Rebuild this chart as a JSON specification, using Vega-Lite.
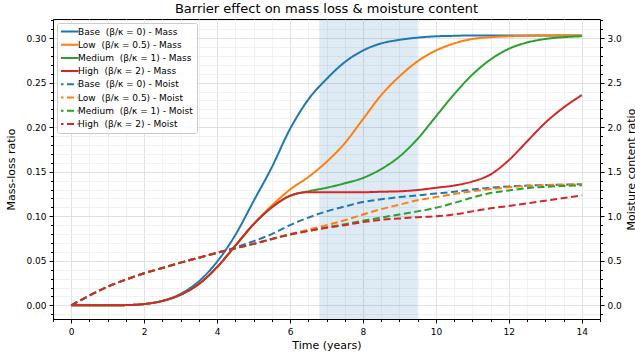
{
  "$schema": "https://vega.github.io/schema/vega-lite/v6.json",
  "width": 547,
  "height": 300,
  "autosize": {"type": "none"},
  "padding": {"left": 53, "top": 19, "right": 35, "bottom": 41},
  "background": "white",
  "title": {"text": "Barrier effect on mass loss & moisture content", "fontSize": 13, "font": "DejaVu Sans", "fontWeight": "normal", "color": "#000", "anchor": "middle", "offset": 0},
  "config": {
    "font": "DejaVu Sans",
    "view": {"stroke": "#000", "strokeWidth": 1},
    "axis": {"domainColor": "#000", "tickColor": "#000", "labelColor": "#000", "titleColor": "#000", "labelFontSize": 9, "titleFontSize": 11, "titleFontWeight": "normal", "labelOverlap": false, "labelFlush": false, "gridWidth": 0.8},
    "legend": {"orient": "top-left", "offset": 4, "padding": 4, "fillColor": "rgba(255,255,255,0.85)", "strokeColor": "#cccccc", "strokeWidth": 1, "cornerRadius": 2, "labelFontSize": 9, "labelColor": "#000", "labelFont": "DejaVu Sans", "symbolType": "M-2,0H2", "symbolSize": 121, "symbolStrokeWidth": 2, "clipHeight": 9, "rowPadding": 3.2, "labelOffset": 4}
  },
  "datasets": {
    "mass": [
      {"s":"Base\u00a0 (β/κ = 0) - Mass","t":0,"v":0},{"s":"Base\u00a0 (β/κ = 0) - Mass","t":0.5,"v":0},{"s":"Base\u00a0 (β/κ = 0) - Mass","t":1,"v":0},{"s":"Base\u00a0 (β/κ = 0) - Mass","t":1.5,"v":0.0003},{"s":"Base\u00a0 (β/κ = 0) - Mass","t":2,"v":0.0015},{"s":"Base\u00a0 (β/κ = 0) - Mass","t":2.5,"v":0.005},{"s":"Base\u00a0 (β/κ = 0) - Mass","t":3,"v":0.013},{"s":"Base\u00a0 (β/κ = 0) - Mass","t":3.5,"v":0.027},{"s":"Base\u00a0 (β/κ = 0) - Mass","t":4,"v":0.049},{"s":"Base\u00a0 (β/κ = 0) - Mass","t":4.5,"v":0.079},{"s":"Base\u00a0 (β/κ = 0) - Mass","t":5,"v":0.117},{"s":"Base\u00a0 (β/κ = 0) - Mass","t":5.5,"v":0.155},{"s":"Base\u00a0 (β/κ = 0) - Mass","t":6,"v":0.198},{"s":"Base\u00a0 (β/κ = 0) - Mass","t":6.5,"v":0.231},{"s":"Base\u00a0 (β/κ = 0) - Mass","t":7,"v":0.254},{"s":"Base\u00a0 (β/κ = 0) - Mass","t":7.5,"v":0.273},{"s":"Base\u00a0 (β/κ = 0) - Mass","t":8,"v":0.286},{"s":"Base\u00a0 (β/κ = 0) - Mass","t":8.5,"v":0.294},{"s":"Base\u00a0 (β/κ = 0) - Mass","t":9,"v":0.298},{"s":"Base\u00a0 (β/κ = 0) - Mass","t":9.5,"v":0.3005},{"s":"Base\u00a0 (β/κ = 0) - Mass","t":10,"v":0.302},{"s":"Base\u00a0 (β/κ = 0) - Mass","t":10.5,"v":0.3025},{"s":"Base\u00a0 (β/κ = 0) - Mass","t":11,"v":0.303},{"s":"Base\u00a0 (β/κ = 0) - Mass","t":11.5,"v":0.303},{"s":"Base\u00a0 (β/κ = 0) - Mass","t":12,"v":0.303},{"s":"Base\u00a0 (β/κ = 0) - Mass","t":12.5,"v":0.303},{"s":"Base\u00a0 (β/κ = 0) - Mass","t":13,"v":0.303},{"s":"Base\u00a0 (β/κ = 0) - Mass","t":13.5,"v":0.303},{"s":"Base\u00a0 (β/κ = 0) - Mass","t":14,"v":0.303},
      {"s":"Low\u00a0 (β/κ = 0.5) - Mass","t":0,"v":0},{"s":"Low\u00a0 (β/κ = 0.5) - Mass","t":0.5,"v":0},{"s":"Low\u00a0 (β/κ = 0.5) - Mass","t":1,"v":0},{"s":"Low\u00a0 (β/κ = 0.5) - Mass","t":1.5,"v":0.0003},{"s":"Low\u00a0 (β/κ = 0.5) - Mass","t":2,"v":0.0015},{"s":"Low\u00a0 (β/κ = 0.5) - Mass","t":2.5,"v":0.005},{"s":"Low\u00a0 (β/κ = 0.5) - Mass","t":3,"v":0.012},{"s":"Low\u00a0 (β/κ = 0.5) - Mass","t":3.5,"v":0.024},{"s":"Low\u00a0 (β/κ = 0.5) - Mass","t":4,"v":0.043},{"s":"Low\u00a0 (β/κ = 0.5) - Mass","t":4.5,"v":0.067},{"s":"Low\u00a0 (β/κ = 0.5) - Mass","t":5,"v":0.091},{"s":"Low\u00a0 (β/κ = 0.5) - Mass","t":5.5,"v":0.112},{"s":"Low\u00a0 (β/κ = 0.5) - Mass","t":6,"v":0.130},{"s":"Low\u00a0 (β/κ = 0.5) - Mass","t":6.5,"v":0.144},{"s":"Low\u00a0 (β/κ = 0.5) - Mass","t":7,"v":0.161},{"s":"Low\u00a0 (β/κ = 0.5) - Mass","t":7.5,"v":0.182},{"s":"Low\u00a0 (β/κ = 0.5) - Mass","t":8,"v":0.209},{"s":"Low\u00a0 (β/κ = 0.5) - Mass","t":8.5,"v":0.236},{"s":"Low\u00a0 (β/κ = 0.5) - Mass","t":9,"v":0.257},{"s":"Low\u00a0 (β/κ = 0.5) - Mass","t":9.5,"v":0.274},{"s":"Low\u00a0 (β/κ = 0.5) - Mass","t":10,"v":0.286},{"s":"Low\u00a0 (β/κ = 0.5) - Mass","t":10.5,"v":0.294},{"s":"Low\u00a0 (β/κ = 0.5) - Mass","t":11,"v":0.299},{"s":"Low\u00a0 (β/κ = 0.5) - Mass","t":11.5,"v":0.301},{"s":"Low\u00a0 (β/κ = 0.5) - Mass","t":12,"v":0.302},{"s":"Low\u00a0 (β/κ = 0.5) - Mass","t":12.5,"v":0.3025},{"s":"Low\u00a0 (β/κ = 0.5) - Mass","t":13,"v":0.303},{"s":"Low\u00a0 (β/κ = 0.5) - Mass","t":13.5,"v":0.303},{"s":"Low\u00a0 (β/κ = 0.5) - Mass","t":14,"v":0.303},
      {"s":"Medium\u00a0 (β/κ = 1) - Mass","t":0,"v":0},{"s":"Medium\u00a0 (β/κ = 1) - Mass","t":0.5,"v":0},{"s":"Medium\u00a0 (β/κ = 1) - Mass","t":1,"v":0},{"s":"Medium\u00a0 (β/κ = 1) - Mass","t":1.5,"v":0.0003},{"s":"Medium\u00a0 (β/κ = 1) - Mass","t":2,"v":0.0015},{"s":"Medium\u00a0 (β/κ = 1) - Mass","t":2.5,"v":0.005},{"s":"Medium\u00a0 (β/κ = 1) - Mass","t":3,"v":0.012},{"s":"Medium\u00a0 (β/κ = 1) - Mass","t":3.5,"v":0.024},{"s":"Medium\u00a0 (β/κ = 1) - Mass","t":4,"v":0.043},{"s":"Medium\u00a0 (β/κ = 1) - Mass","t":4.5,"v":0.067},{"s":"Medium\u00a0 (β/κ = 1) - Mass","t":5,"v":0.091},{"s":"Medium\u00a0 (β/κ = 1) - Mass","t":5.5,"v":0.110},{"s":"Medium\u00a0 (β/κ = 1) - Mass","t":6,"v":0.123},{"s":"Medium\u00a0 (β/κ = 1) - Mass","t":6.5,"v":0.128},{"s":"Medium\u00a0 (β/κ = 1) - Mass","t":7,"v":0.132},{"s":"Medium\u00a0 (β/κ = 1) - Mass","t":7.5,"v":0.137},{"s":"Medium\u00a0 (β/κ = 1) - Mass","t":8,"v":0.143},{"s":"Medium\u00a0 (β/κ = 1) - Mass","t":8.5,"v":0.153},{"s":"Medium\u00a0 (β/κ = 1) - Mass","t":9,"v":0.167},{"s":"Medium\u00a0 (β/κ = 1) - Mass","t":9.5,"v":0.187},{"s":"Medium\u00a0 (β/κ = 1) - Mass","t":10,"v":0.212},{"s":"Medium\u00a0 (β/κ = 1) - Mass","t":10.5,"v":0.237},{"s":"Medium\u00a0 (β/κ = 1) - Mass","t":11,"v":0.259},{"s":"Medium\u00a0 (β/κ = 1) - Mass","t":11.5,"v":0.276},{"s":"Medium\u00a0 (β/κ = 1) - Mass","t":12,"v":0.288},{"s":"Medium\u00a0 (β/κ = 1) - Mass","t":12.5,"v":0.295},{"s":"Medium\u00a0 (β/κ = 1) - Mass","t":13,"v":0.299},{"s":"Medium\u00a0 (β/κ = 1) - Mass","t":13.5,"v":0.301},{"s":"Medium\u00a0 (β/κ = 1) - Mass","t":14,"v":0.302},
      {"s":"High\u00a0 (β/κ = 2) - Mass","t":0,"v":0},{"s":"High\u00a0 (β/κ = 2) - Mass","t":0.5,"v":0},{"s":"High\u00a0 (β/κ = 2) - Mass","t":1,"v":0},{"s":"High\u00a0 (β/κ = 2) - Mass","t":1.5,"v":0.0003},{"s":"High\u00a0 (β/κ = 2) - Mass","t":2,"v":0.0015},{"s":"High\u00a0 (β/κ = 2) - Mass","t":2.5,"v":0.005},{"s":"High\u00a0 (β/κ = 2) - Mass","t":3,"v":0.012},{"s":"High\u00a0 (β/κ = 2) - Mass","t":3.5,"v":0.024},{"s":"High\u00a0 (β/κ = 2) - Mass","t":4,"v":0.043},{"s":"High\u00a0 (β/κ = 2) - Mass","t":4.5,"v":0.067},{"s":"High\u00a0 (β/κ = 2) - Mass","t":5,"v":0.091},{"s":"High\u00a0 (β/κ = 2) - Mass","t":5.5,"v":0.110},{"s":"High\u00a0 (β/κ = 2) - Mass","t":6,"v":0.123},{"s":"High\u00a0 (β/κ = 2) - Mass","t":6.5,"v":0.127},{"s":"High\u00a0 (β/κ = 2) - Mass","t":7,"v":0.127},{"s":"High\u00a0 (β/κ = 2) - Mass","t":7.5,"v":0.127},{"s":"High\u00a0 (β/κ = 2) - Mass","t":8,"v":0.127},{"s":"High\u00a0 (β/κ = 2) - Mass","t":8.5,"v":0.1275},{"s":"High\u00a0 (β/κ = 2) - Mass","t":9,"v":0.128},{"s":"High\u00a0 (β/κ = 2) - Mass","t":9.5,"v":0.1295},{"s":"High\u00a0 (β/κ = 2) - Mass","t":10,"v":0.132},{"s":"High\u00a0 (β/κ = 2) - Mass","t":10.5,"v":0.1345},{"s":"High\u00a0 (β/κ = 2) - Mass","t":11,"v":0.139},{"s":"High\u00a0 (β/κ = 2) - Mass","t":11.5,"v":0.147},{"s":"High\u00a0 (β/κ = 2) - Mass","t":12,"v":0.163},{"s":"High\u00a0 (β/κ = 2) - Mass","t":12.5,"v":0.184},{"s":"High\u00a0 (β/κ = 2) - Mass","t":13,"v":0.205},{"s":"High\u00a0 (β/κ = 2) - Mass","t":13.5,"v":0.222},{"s":"High\u00a0 (β/κ = 2) - Mass","t":14,"v":0.236}
    ],
    "moist": [
      {"s":"Base\u00a0 (β/κ = 0) - Moist","t":0,"m":0},{"s":"Base\u00a0 (β/κ = 0) - Moist","t":0.5,"m":0.11},{"s":"Base\u00a0 (β/κ = 0) - Moist","t":1,"m":0.21},{"s":"Base\u00a0 (β/κ = 0) - Moist","t":1.5,"m":0.29},{"s":"Base\u00a0 (β/κ = 0) - Moist","t":2,"m":0.36},{"s":"Base\u00a0 (β/κ = 0) - Moist","t":2.5,"m":0.42},{"s":"Base\u00a0 (β/κ = 0) - Moist","t":3,"m":0.48},{"s":"Base\u00a0 (β/κ = 0) - Moist","t":3.5,"m":0.535},{"s":"Base\u00a0 (β/κ = 0) - Moist","t":4,"m":0.59},{"s":"Base\u00a0 (β/κ = 0) - Moist","t":4.5,"m":0.65},{"s":"Base\u00a0 (β/κ = 0) - Moist","t":5,"m":0.72},{"s":"Base\u00a0 (β/κ = 0) - Moist","t":5.5,"m":0.80},{"s":"Base\u00a0 (β/κ = 0) - Moist","t":6,"m":0.90},{"s":"Base\u00a0 (β/κ = 0) - Moist","t":6.5,"m":0.985},{"s":"Base\u00a0 (β/κ = 0) - Moist","t":7,"m":1.055},{"s":"Base\u00a0 (β/κ = 0) - Moist","t":7.5,"m":1.11},{"s":"Base\u00a0 (β/κ = 0) - Moist","t":8,"m":1.16},{"s":"Base\u00a0 (β/κ = 0) - Moist","t":8.5,"m":1.19},{"s":"Base\u00a0 (β/κ = 0) - Moist","t":9,"m":1.215},{"s":"Base\u00a0 (β/κ = 0) - Moist","t":9.5,"m":1.235},{"s":"Base\u00a0 (β/κ = 0) - Moist","t":10,"m":1.255},{"s":"Base\u00a0 (β/κ = 0) - Moist","t":10.5,"m":1.275},{"s":"Base\u00a0 (β/κ = 0) - Moist","t":11,"m":1.30},{"s":"Base\u00a0 (β/κ = 0) - Moist","t":11.5,"m":1.32},{"s":"Base\u00a0 (β/κ = 0) - Moist","t":12,"m":1.335},{"s":"Base\u00a0 (β/κ = 0) - Moist","t":12.5,"m":1.345},{"s":"Base\u00a0 (β/κ = 0) - Moist","t":13,"m":1.35},{"s":"Base\u00a0 (β/κ = 0) - Moist","t":13.5,"m":1.355},{"s":"Base\u00a0 (β/κ = 0) - Moist","t":14,"m":1.36},
      {"s":"Low\u00a0 (β/κ = 0.5) - Moist","t":0,"m":0},{"s":"Low\u00a0 (β/κ = 0.5) - Moist","t":0.5,"m":0.11},{"s":"Low\u00a0 (β/κ = 0.5) - Moist","t":1,"m":0.21},{"s":"Low\u00a0 (β/κ = 0.5) - Moist","t":1.5,"m":0.29},{"s":"Low\u00a0 (β/κ = 0.5) - Moist","t":2,"m":0.36},{"s":"Low\u00a0 (β/κ = 0.5) - Moist","t":2.5,"m":0.42},{"s":"Low\u00a0 (β/κ = 0.5) - Moist","t":3,"m":0.48},{"s":"Low\u00a0 (β/κ = 0.5) - Moist","t":3.5,"m":0.535},{"s":"Low\u00a0 (β/κ = 0.5) - Moist","t":4,"m":0.59},{"s":"Low\u00a0 (β/κ = 0.5) - Moist","t":4.5,"m":0.64},{"s":"Low\u00a0 (β/κ = 0.5) - Moist","t":5,"m":0.69},{"s":"Low\u00a0 (β/κ = 0.5) - Moist","t":5.5,"m":0.745},{"s":"Low\u00a0 (β/κ = 0.5) - Moist","t":6,"m":0.80},{"s":"Low\u00a0 (β/κ = 0.5) - Moist","t":6.5,"m":0.85},{"s":"Low\u00a0 (β/κ = 0.5) - Moist","t":7,"m":0.90},{"s":"Low\u00a0 (β/κ = 0.5) - Moist","t":7.5,"m":0.955},{"s":"Low\u00a0 (β/κ = 0.5) - Moist","t":8,"m":1.02},{"s":"Low\u00a0 (β/κ = 0.5) - Moist","t":8.5,"m":1.08},{"s":"Low\u00a0 (β/κ = 0.5) - Moist","t":9,"m":1.13},{"s":"Low\u00a0 (β/κ = 0.5) - Moist","t":9.5,"m":1.18},{"s":"Low\u00a0 (β/κ = 0.5) - Moist","t":10,"m":1.215},{"s":"Low\u00a0 (β/κ = 0.5) - Moist","t":10.5,"m":1.25},{"s":"Low\u00a0 (β/κ = 0.5) - Moist","t":11,"m":1.28},{"s":"Low\u00a0 (β/κ = 0.5) - Moist","t":11.5,"m":1.305},{"s":"Low\u00a0 (β/κ = 0.5) - Moist","t":12,"m":1.325},{"s":"Low\u00a0 (β/κ = 0.5) - Moist","t":12.5,"m":1.34},{"s":"Low\u00a0 (β/κ = 0.5) - Moist","t":13,"m":1.35},{"s":"Low\u00a0 (β/κ = 0.5) - Moist","t":13.5,"m":1.355},{"s":"Low\u00a0 (β/κ = 0.5) - Moist","t":14,"m":1.36},
      {"s":"Medium\u00a0 (β/κ = 1) - Moist","t":0,"m":0},{"s":"Medium\u00a0 (β/κ = 1) - Moist","t":0.5,"m":0.11},{"s":"Medium\u00a0 (β/κ = 1) - Moist","t":1,"m":0.21},{"s":"Medium\u00a0 (β/κ = 1) - Moist","t":1.5,"m":0.29},{"s":"Medium\u00a0 (β/κ = 1) - Moist","t":2,"m":0.36},{"s":"Medium\u00a0 (β/κ = 1) - Moist","t":2.5,"m":0.42},{"s":"Medium\u00a0 (β/κ = 1) - Moist","t":3,"m":0.48},{"s":"Medium\u00a0 (β/κ = 1) - Moist","t":3.5,"m":0.535},{"s":"Medium\u00a0 (β/κ = 1) - Moist","t":4,"m":0.59},{"s":"Medium\u00a0 (β/κ = 1) - Moist","t":4.5,"m":0.64},{"s":"Medium\u00a0 (β/κ = 1) - Moist","t":5,"m":0.69},{"s":"Medium\u00a0 (β/κ = 1) - Moist","t":5.5,"m":0.745},{"s":"Medium\u00a0 (β/κ = 1) - Moist","t":6,"m":0.795},{"s":"Medium\u00a0 (β/κ = 1) - Moist","t":6.5,"m":0.835},{"s":"Medium\u00a0 (β/κ = 1) - Moist","t":7,"m":0.875},{"s":"Medium\u00a0 (β/κ = 1) - Moist","t":7.5,"m":0.91},{"s":"Medium\u00a0 (β/κ = 1) - Moist","t":8,"m":0.95},{"s":"Medium\u00a0 (β/κ = 1) - Moist","t":8.5,"m":0.985},{"s":"Medium\u00a0 (β/κ = 1) - Moist","t":9,"m":1.02},{"s":"Medium\u00a0 (β/κ = 1) - Moist","t":9.5,"m":1.055},{"s":"Medium\u00a0 (β/κ = 1) - Moist","t":10,"m":1.095},{"s":"Medium\u00a0 (β/κ = 1) - Moist","t":10.5,"m":1.15},{"s":"Medium\u00a0 (β/κ = 1) - Moist","t":11,"m":1.21},{"s":"Medium\u00a0 (β/κ = 1) - Moist","t":11.5,"m":1.26},{"s":"Medium\u00a0 (β/κ = 1) - Moist","t":12,"m":1.29},{"s":"Medium\u00a0 (β/κ = 1) - Moist","t":12.5,"m":1.315},{"s":"Medium\u00a0 (β/κ = 1) - Moist","t":13,"m":1.33},{"s":"Medium\u00a0 (β/κ = 1) - Moist","t":13.5,"m":1.34},{"s":"Medium\u00a0 (β/κ = 1) - Moist","t":14,"m":1.347},
      {"s":"High\u00a0 (β/κ = 2) - Moist","t":0,"m":0},{"s":"High\u00a0 (β/κ = 2) - Moist","t":0.5,"m":0.11},{"s":"High\u00a0 (β/κ = 2) - Moist","t":1,"m":0.21},{"s":"High\u00a0 (β/κ = 2) - Moist","t":1.5,"m":0.29},{"s":"High\u00a0 (β/κ = 2) - Moist","t":2,"m":0.36},{"s":"High\u00a0 (β/κ = 2) - Moist","t":2.5,"m":0.42},{"s":"High\u00a0 (β/κ = 2) - Moist","t":3,"m":0.48},{"s":"High\u00a0 (β/κ = 2) - Moist","t":3.5,"m":0.535},{"s":"High\u00a0 (β/κ = 2) - Moist","t":4,"m":0.59},{"s":"High\u00a0 (β/κ = 2) - Moist","t":4.5,"m":0.64},{"s":"High\u00a0 (β/κ = 2) - Moist","t":5,"m":0.69},{"s":"High\u00a0 (β/κ = 2) - Moist","t":5.5,"m":0.745},{"s":"High\u00a0 (β/κ = 2) - Moist","t":6,"m":0.795},{"s":"High\u00a0 (β/κ = 2) - Moist","t":6.5,"m":0.835},{"s":"High\u00a0 (β/κ = 2) - Moist","t":7,"m":0.87},{"s":"High\u00a0 (β/κ = 2) - Moist","t":7.5,"m":0.90},{"s":"High\u00a0 (β/κ = 2) - Moist","t":8,"m":0.935},{"s":"High\u00a0 (β/κ = 2) - Moist","t":8.5,"m":0.96},{"s":"High\u00a0 (β/κ = 2) - Moist","t":9,"m":0.975},{"s":"High\u00a0 (β/κ = 2) - Moist","t":9.5,"m":0.99},{"s":"High\u00a0 (β/κ = 2) - Moist","t":10,"m":1.00},{"s":"High\u00a0 (β/κ = 2) - Moist","t":10.5,"m":1.02},{"s":"High\u00a0 (β/κ = 2) - Moist","t":11,"m":1.055},{"s":"High\u00a0 (β/κ = 2) - Moist","t":11.5,"m":1.09},{"s":"High\u00a0 (β/κ = 2) - Moist","t":12,"m":1.115},{"s":"High\u00a0 (β/κ = 2) - Moist","t":12.5,"m":1.145},{"s":"High\u00a0 (β/κ = 2) - Moist","t":13,"m":1.175},{"s":"High\u00a0 (β/κ = 2) - Moist","t":13.5,"m":1.205},{"s":"High\u00a0 (β/κ = 2) - Moist","t":14,"m":1.235}
    ],
    "span": [{"start": 6.8, "end": 9.5}]
  },
  "layer": [
    {
      "data": {"name": "span"},
      "mark": {"type": "rect", "color": "#1f77b4", "opacity": 0.15},
      "encoding": {
        "x": {"field": "start", "type": "quantitative", "scale": {"domain": [-0.5, 14.5], "nice": false, "zero": false},
          "axis": {"title": "Time (years)", "values": [-0.5,0,0.5,1,1.5,2,2.5,3,3.5,4,4.5,5,5.5,6,6.5,7,7.5,8,8.5,9,9.5,10,10.5,11,11.5,12,12.5,13,13.5,14,14.5],
            "labelExpr": "datum.value % 2 === 0 ? format(datum.value, 'd') : ''",
            "gridColor": {"condition": {"test": "datum.value % 2 === 0", "value": "#d9d9d9"}, "value": "#ededed"},
            "tickSize": {"condition": {"test": "datum.value % 2 === 0", "value": 4}, "value": 2.5},
            "labelPadding": 4, "titlePadding": 3}},
        "x2": {"field": "end"}
      }
    },
    {
      "data": {"name": "mass"},
      "mark": {"type": "line", "strokeWidth": 2, "interpolate": "monotone"},
      "encoding": {
        "x": {"field": "t", "type": "quantitative", "scale": {"domain": [-0.5, 14.5], "nice": false, "zero": false},
          "axis": {"title": "Time (years)", "values": [-0.5,0,0.5,1,1.5,2,2.5,3,3.5,4,4.5,5,5.5,6,6.5,7,7.5,8,8.5,9,9.5,10,10.5,11,11.5,12,12.5,13,13.5,14,14.5],
            "labelExpr": "datum.value % 2 === 0 ? format(datum.value, 'd') : ''",
            "gridColor": {"condition": {"test": "datum.value % 2 === 0", "value": "#d9d9d9"}, "value": "#ededed"},
            "tickSize": {"condition": {"test": "datum.value % 2 === 0", "value": 4}, "value": 2.5},
            "labelPadding": 4, "titlePadding": 3}},
        "y": {"field": "v", "type": "quantitative", "scale": {"domain": [-0.0153, 0.3214], "nice": false, "zero": false},
          "axis": {"title": "Mass-loss ratio", "orient": "left",
            "values": [-0.01,0,0.01,0.02,0.03,0.04,0.05,0.06,0.07,0.08,0.09,0.1,0.11,0.12,0.13,0.14,0.15,0.16,0.17,0.18,0.19,0.2,0.21,0.22,0.23,0.24,0.25,0.26,0.27,0.28,0.29,0.3,0.31,0.32],
            "labelExpr": "abs(datum.value*20 - round(datum.value*20)) < 0.000001 ? format(datum.value, '.2f') : ''",
            "gridColor": {"condition": {"test": "abs(datum.value*20 - round(datum.value*20)) < 0.000001", "value": "#d9d9d9"}, "value": "#ededed"},
            "tickSize": {"condition": {"test": "abs(datum.value*20 - round(datum.value*20)) < 0.000001", "value": 4}, "value": 2.5},
            "labelPadding": 3, "titlePadding": 9}},
        "color": {"field": "s", "type": "nominal",
          "scale": {"domain": ["Base\u00a0 (β/κ = 0) - Mass","Low\u00a0 (β/κ = 0.5) - Mass","Medium\u00a0 (β/κ = 1) - Mass","High\u00a0 (β/κ = 2) - Mass","Base\u00a0 (β/κ = 0) - Moist","Low\u00a0 (β/κ = 0.5) - Moist","Medium\u00a0 (β/κ = 1) - Moist","High\u00a0 (β/κ = 2) - Moist"],
            "range": ["#1f77b4","#ff7f0e","#2ca02c","#d62728","#1f77b4","#ff7f0e","#2ca02c","#d62728"]},
          "legend": {"title": null}},
        "strokeDash": {"field": "s", "type": "nominal",
          "scale": {"domain": ["Base\u00a0 (β/κ = 0) - Mass","Low\u00a0 (β/κ = 0.5) - Mass","Medium\u00a0 (β/κ = 1) - Mass","High\u00a0 (β/κ = 2) - Mass","Base\u00a0 (β/κ = 0) - Moist","Low\u00a0 (β/κ = 0.5) - Moist","Medium\u00a0 (β/κ = 1) - Moist","High\u00a0 (β/κ = 2) - Moist"],
            "range": [[1,0],[1,0],[1,0],[1,0],[7,3.5],[7,3.5],[7,3.5],[7,3.5]]},
          "legend": {"title": null}}
      }
    },
    {
      "data": {"name": "moist"},
      "mark": {"type": "line", "strokeWidth": 2, "interpolate": "monotone"},
      "encoding": {
        "x": {"field": "t", "type": "quantitative", "scale": {"domain": [-0.5, 14.5], "nice": false, "zero": false},
          "axis": {"title": "Time (years)", "values": [-0.5,0,0.5,1,1.5,2,2.5,3,3.5,4,4.5,5,5.5,6,6.5,7,7.5,8,8.5,9,9.5,10,10.5,11,11.5,12,12.5,13,13.5,14,14.5],
            "labelExpr": "datum.value % 2 === 0 ? format(datum.value, 'd') : ''",
            "gridColor": {"condition": {"test": "datum.value % 2 === 0", "value": "#d9d9d9"}, "value": "#ededed"},
            "tickSize": {"condition": {"test": "datum.value % 2 === 0", "value": 4}, "value": 2.5},
            "labelPadding": 4, "titlePadding": 3}},
        "y": {"field": "m", "type": "quantitative", "scale": {"domain": [-0.153, 3.214], "nice": false, "zero": false},
          "axis": {"title": "Moisture content ratio", "orient": "right", "grid": false, "titleAngle": 270, "titleBaseline": "top",
            "values": [-0.1,0,0.1,0.2,0.3,0.4,0.5,0.6,0.7,0.8,0.9,1,1.1,1.2,1.3,1.4,1.5,1.6,1.7,1.8,1.9,2,2.1,2.2,2.3,2.4,2.5,2.6,2.7,2.8,2.9,3,3.1,3.2],
            "labelExpr": "abs(datum.value*2 - round(datum.value*2)) < 0.000001 ? format(datum.value, '.1f') : ''",
            "tickSize": {"condition": {"test": "abs(datum.value*2 - round(datum.value*2)) < 0.000001", "value": 4}, "value": 2.5},
            "labelPadding": 3, "titlePadding": 4}},
        "color": {"field": "s", "type": "nominal",
          "scale": {"domain": ["Base\u00a0 (β/κ = 0) - Mass","Low\u00a0 (β/κ = 0.5) - Mass","Medium\u00a0 (β/κ = 1) - Mass","High\u00a0 (β/κ = 2) - Mass","Base\u00a0 (β/κ = 0) - Moist","Low\u00a0 (β/κ = 0.5) - Moist","Medium\u00a0 (β/κ = 1) - Moist","High\u00a0 (β/κ = 2) - Moist"],
            "range": ["#1f77b4","#ff7f0e","#2ca02c","#d62728","#1f77b4","#ff7f0e","#2ca02c","#d62728"]},
          "legend": {"title": null}},
        "strokeDash": {"field": "s", "type": "nominal",
          "scale": {"domain": ["Base\u00a0 (β/κ = 0) - Mass","Low\u00a0 (β/κ = 0.5) - Mass","Medium\u00a0 (β/κ = 1) - Mass","High\u00a0 (β/κ = 2) - Mass","Base\u00a0 (β/κ = 0) - Moist","Low\u00a0 (β/κ = 0.5) - Moist","Medium\u00a0 (β/κ = 1) - Moist","High\u00a0 (β/κ = 2) - Moist"],
            "range": [[1,0],[1,0],[1,0],[1,0],[7,3.5],[7,3.5],[7,3.5],[7,3.5]]},
          "legend": {"title": null}}
      }
    }
  ],
  "resolve": {"scale": {"y": "independent"}}
}
